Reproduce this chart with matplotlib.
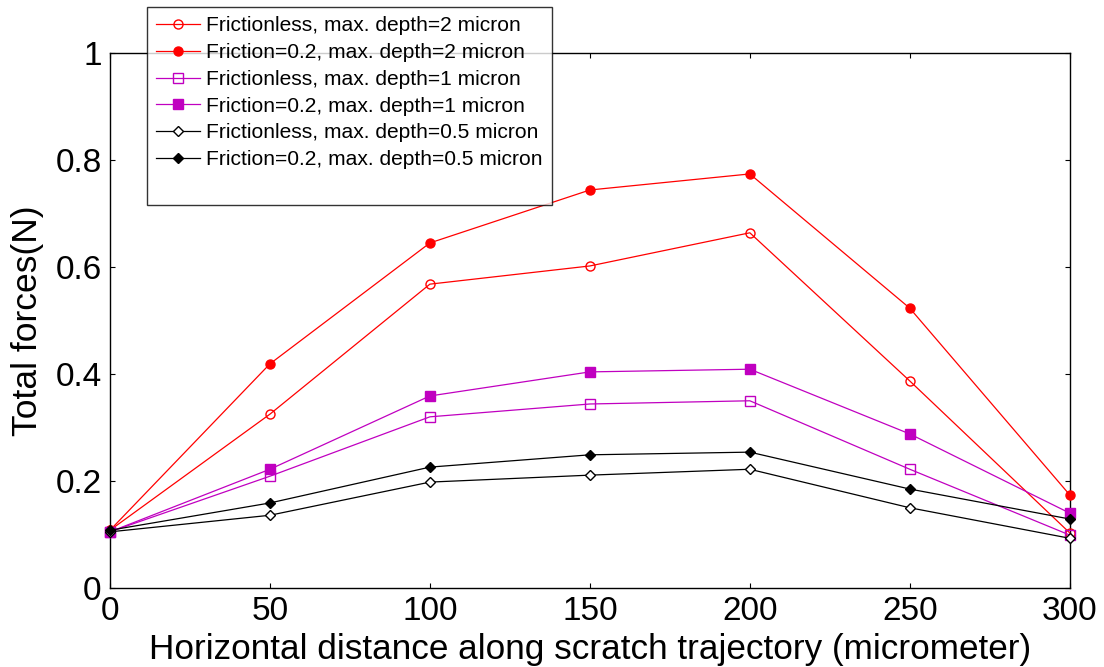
import numpy as np
import matplotlib
matplotlib.use("Agg")
import matplotlib.pyplot as plt
from matplotlib.lines import Line2D

plt.rcParams['font.family'] = ['Liberation Sans', 'DejaVu Sans']

distance = [0, 50, 100, 150, 200, 250, 300]

frictionless_2 = [0.108, 0.325, 0.568, 0.602, 0.664, 0.387, 0.103]
friction_2 = [0.108, 0.419, 0.645, 0.744, 0.774, 0.523, 0.174]
frictionless_1 = [0.105, 0.209, 0.320, 0.344, 0.350, 0.222, 0.099]
friction_1 = [0.105, 0.222, 0.359, 0.404, 0.409, 0.288, 0.140]
frictionless_05 = [0.105, 0.136, 0.198, 0.211, 0.222, 0.150, 0.093]
friction_05 = [0.108, 0.159, 0.226, 0.249, 0.254, 0.185, 0.129]

labels = [
    "Frictionless, max. depth=2 micron",
    "Friction=0.2, max. depth=2 micron",
    "Frictionless, max. depth=1 micron",
    "Friction=0.2, max. depth=1 micron",
    "Frictionless, max. depth=0.5 micron",
    "Friction=0.2, max. depth=0.5 micron",
]

red = "#ff0000"
mag = "#c000c0"

fig = plt.figure(figsize=(11.04, 6.67), dpi=100)
ax = fig.add_axes([0.0996, 0.1184, 0.8694, 0.8021])

series = [
    (frictionless_2, red, 'o', 'none'),
    (friction_2, red, 'o', red),
    (frictionless_1, mag, 's', 'none'),
    (friction_1, mag, 's', mag),
    (frictionless_05, 'k', 'D', 'white'),
    (friction_05, 'k', 'D', 'k'),
]

for (vals, c, m, fc), lab in zip(series, labels):
    ms = 5.5 if m == 'D' else 6.5
    ax.plot(distance, vals, color=c, marker=m, markerfacecolor=fc,
            markeredgecolor=c, markersize=ms, linewidth=0.9, label=lab,
            clip_on=False, zorder=3)

ax.set_xlim(0, 300)
ax.set_ylim(0, 1)
ax.set_xticks(distance)
ax.set_yticks([0, 0.2, 0.4, 0.6, 0.8, 1])
ax.set_yticklabels(["0", "0.2", "0.4", "0.6", "0.8", "1"])
ax.tick_params(direction='in', top=True, right=True, labelsize=24, length=3.5, pad=6)
for s in ax.spines.values():
    s.set_linewidth(1.0)

ax.set_xlabel("Horizontal distance along scratch trajectory (micrometer)", fontsize=25.3, labelpad=4)
ax.set_ylabel("Total forces(N)", fontsize=25.5, labelpad=8)

# blank last entry leaves the empty strip at the bottom of the legend box
handles, labs = ax.get_legend_handles_labels()
handles.append(Line2D([], [], linestyle='none'))
labs.append(" ")
leg = fig.legend(handles, labs, loc='upper left',
                 bbox_to_anchor=(147 / 1104, 1 - 7 / 667),
                 fontsize=15.1, frameon=True, fancybox=False, edgecolor='k',
                 handlelength=2.1, handletextpad=0.25, labelspacing=0.37,
                 borderpad=0.45, borderaxespad=0)
leg.get_frame().set_linewidth(1.0)
leg.set_zorder(10)

fig.savefig("out.png", dpi=100)
